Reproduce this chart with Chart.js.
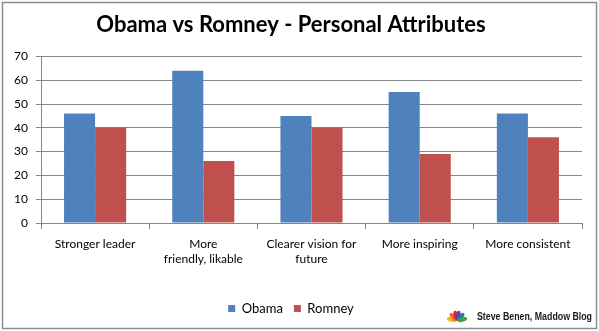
<!DOCTYPE html>
<html>
<head>
<meta charset="utf-8">
<script src="https://cdn.jsdelivr.net/npm/chart.js@4.4.1/dist/chart.umd.min.js"></script>
<style>
  html, body { margin: 0; padding: 0; background: #ffffff; }
  #wrap { width: 599px; height: 331px; position: relative; }
</style>
</head>
<body>
<div id="wrap"><canvas id="c" width="599" height="331"></canvas></div>
<script>
const categories = [
  "Stronger leader",
  ["More", "friendly, likable"],
  ["Clearer vision for", "future"],
  "More inspiring",
  "More consistent"
];
const obamaValues = [46, 64, 45, 55, 46];
const romneyValues = [40, 26, 40, 29, 36];
const yTicks = [0, 10, 20, 30, 40, 50, 60, 70];
const chartTitle = "Obama vs Romney - Personal Attributes";
const creditText = "Steve Benen, Maddow Blog";

const FONT = "Lato, 'Open Sans', sans-serif";

const decorPlugin = {
  id: 'decor',
  afterDraw(chart) {
    const ctx = chart.ctx;
    ctx.save();
    // outer border
    ctx.strokeStyle = '#8c8c8c';
    ctx.lineWidth = 1.5;
    ctx.strokeRect(2.5, 2.5, 594, 326);
    // peacock logo
    const cx = 457, cy = 321;
    const cols = ['#f7b718', '#f26b21', '#e21f3d', '#6e3f97', '#1b75bb', '#3fa535'];
    const angs = [-165, -132, -102, -78, -48, -15];
    cols.forEach((col, i) => {
      ctx.save();
      ctx.translate(cx, cy);
      ctx.rotate(angs[i] * Math.PI / 180);
      ctx.fillStyle = col;
      ctx.beginPath();
      ctx.ellipse(5.5, 0, 5, 2.2, 0, 0, Math.PI * 2);
      ctx.fill();
      ctx.restore();
    });
    // credit
    ctx.fillStyle = '#1a1a1a';
    ctx.font = "bold 11px 'Liberation Sans', Arial, sans-serif";
    const w = ctx.measureText(creditText).width;
    const sx = Math.min(1, 115 / w);
    ctx.textBaseline = 'middle';
    ctx.textAlign = 'left';
    ctx.translate(477, 317);
    ctx.scale(sx, 1);
    ctx.fillText(creditText, 0, 0);
    ctx.restore();
  }
};

new Chart(document.getElementById('c'), {
  type: 'bar',
  data: {
    labels: categories,
    datasets: [
      { label: 'Obama', data: obamaValues, backgroundColor: '#4f81bd', borderWidth: 0 },
      { label: 'Romney', data: romneyValues, backgroundColor: '#c0504d', borderWidth: 0 }
    ]
  },
  plugins: [decorPlugin],
  options: {
    responsive: false,
    animation: false,
    devicePixelRatio: 1,
    layout: { padding: { top: 0, left: 0, right: 17, bottom: 6 } },
    datasets: { bar: { barPercentage: 1, categoryPercentage: 0.574 } },
    plugins: {
      title: {
        display: true,
        text: chartTitle,
        color: '#000000',
        font: { family: FONT, size: 22, weight: 'bold' },
        padding: { top: 12, bottom: 18 }
      },
      legend: {
        display: true,
        position: 'bottom',
        labels: {
          color: '#000000',
          font: { family: FONT, size: 13 },
          boxWidth: 7,
          boxHeight: 7,
          padding: 11
        }
      },
      tooltip: { enabled: false }
    },
    scales: {
      x: {
        grid: { display: true, drawOnChartArea: false, drawTicks: true, tickLength: 6, color: '#868686', offset: true },
        border: { display: true, color: '#868686', width: 1 },
        ticks: { color: '#000000', font: { family: FONT, size: 12, lineHeight: 1.25 }, padding: 8, maxRotation: 0, autoSkip: false },
        afterFit(scale) { scale.height = 68; }
      },
      y: {
        min: 0, max: 70,
        afterBuildTicks(scale) { scale.ticks = yTicks.map(v => ({ value: v })); },
        grid: { display: true, drawOnChartArea: true, drawTicks: true, tickLength: 5, color: '#868686' },
        border: { display: true, color: '#868686', width: 1 },
        ticks: { color: '#000000', font: { family: FONT, size: 12 }, padding: 8 },
        afterFit(scale) { scale.width = 41; }
      }
    }
  }
});
</script>
</body>
</html>
